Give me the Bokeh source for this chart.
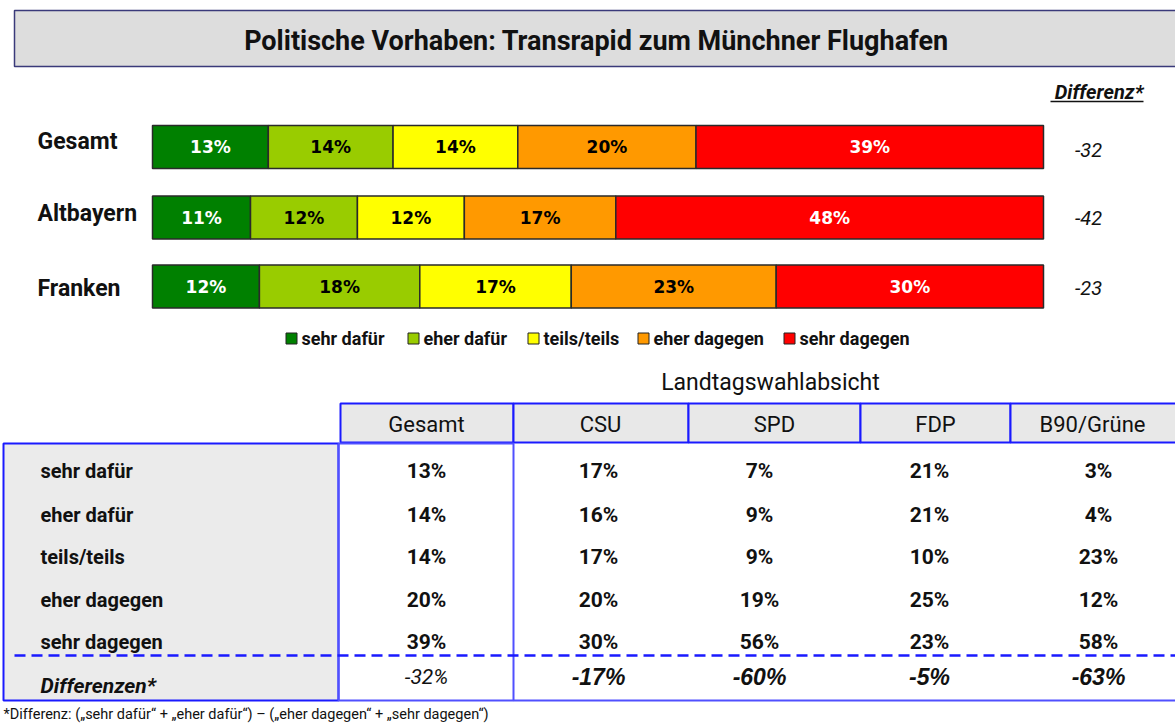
from bokeh.plotting import figure
from bokeh.models import Range1d, ColumnDataSource
from bokeh.core.properties import value
from bokeh.embed import file_html
from bokeh.resources import INLINE

# ---------------- data ----------------
title_text = "Politische Vorhaben: Transrapid zum Münchner Flughafen"
groups = ["Gesamt", "Altbayern", "Franken"]
answers = ["sehr dafür", "eher dafür", "teils/teils", "eher dagegen", "sehr dagegen"]
answer_colors = ["#008000", "#99cc00", "#ffff00", "#ff9900", "#ff0000"]
label_colors = ["white", "black", "black", "black", "white"]
sehr_dafuer = [13, 11, 12]
eher_dafuer = [14, 12, 18]
teils_teils = [14, 12, 17]
eher_dagegen = [20, 17, 23]
sehr_dagegen = [39, 48, 30]
differenz = [-32, -42, -23]

table_title = "Landtagswahlabsicht"
table_cols = ["Gesamt", "CSU", "SPD", "FDP", "B90/Grüne"]
tab_gesamt = [13, 14, 14, 20, 39]
tab_csu = [17, 16, 17, 20, 30]
tab_spd = [7, 9, 9, 19, 56]
tab_fdp = [21, 21, 10, 25, 23]
tab_gruene = [3, 4, 23, 12, 58]
tab_diff = [-32, -17, -60, -5, -63]
footnote = "*Differenz: („sehr dafür“ + „eher dafür“) – („eher dagegen“ + „sehr dagegen“)"

# ---------------- layout ----------------
NARROW = value("Roboto")
ARIAL = value("Liberation Sans")
WIDE = value("DejaVu Sans")
INK = "#111111"
W, H = 1175, 724
p = figure(width=W, height=H, x_range=Range1d(0, W), y_range=Range1d(H, 0),
           output_backend="svg", toolbar_location=None, min_border=0,
           x_axis_type=None, y_axis_type=None, outline_line_color=None)
p.grid.visible = False
p.background_fill_color = "white"
p.border_fill_color = "white"

# percent scale for the bars: 0% -> 152, 100% -> 1043 (page units)
BX0, BX1 = 152, 1043
ppx = (BX1 - BX0) / 100.0
p.extra_x_ranges = {"pct": Range1d(-BX0 / ppx, (W - BX0) / ppx)}

# title box
p.quad(left=[14], right=[1190], top=[10], bottom=[66], fill_color="#dddddd",
       line_color="#3a3a7a", line_width=1.5)
p.text(x=[596], y=[40], text=[title_text], text_font=NARROW, text_font_style="bold",
       text_font_size="27px", text_align="center", text_baseline="middle", text_color=INK)

# stacked bars
row_y = [146.5, 217, 286]
series = [sehr_dafuer, eher_dafuer, teils_teils, eher_dagegen, sehr_dagegen]
left = [0, 0, 0]
for ans, vals, col, lcol in zip(answers, series, answer_colors, label_colors):
    right = [l + v for l, v in zip(left, vals)]
    src = ColumnDataSource(dict(y=row_y, left=left, right=right,
                                mid=[(l + r) / 2 for l, r in zip(left, right)],
                                lab=[f"{v}%" for v in vals]))
    p.hbar(y="y", left="left", right="right", height=43, source=src, x_range_name="pct",
           fill_color=col, line_color="#2a2a2a", line_width=1.5)
    p.text(x="mid", y="y", text="lab", source=src, x_range_name="pct",
           text_font=WIDE, text_font_style="bold", text_font_size="17px",
           text_align="center", text_baseline="middle", text_color=lcol)
    left = right

p.text(x=[37] * 3, y=[141, 213, 288], text=groups, text_font=NARROW, text_font_style="bold",
       text_font_size="23px", text_align="left", text_baseline="middle", text_color=INK)

# Differenz column
p.text(x=[1143], y=[91], text=["Differenz*"], text_font=NARROW, text_font_style="bold italic",
       text_font_size="20px", text_align="right", text_baseline="middle", text_color=INK)
p.line(x=[1050, 1143], y=[101, 101], line_color=INK, line_width=1.5)
p.text(x=[1088] * 3, y=[149, 217, 287], text=[str(d) for d in differenz], text_font=NARROW,
       text_font_style="italic", text_font_size="20px", text_align="center",
       text_baseline="middle", text_color=INK)

# legend
leg_sq_x = [291, 413, 533, 643, 789]
for sx, ans, col in zip(leg_sq_x, answers, answer_colors):
    p.rect(x=[sx], y=[338], width=11, height=11, fill_color=col, line_color="#222222", line_width=1)
    p.text(x=[sx + 10], y=[338], text=[ans], text_font=NARROW, text_font_style="bold",
           text_font_size="18px", text_align="left", text_baseline="middle", text_color=INK)

# table title
p.text(x=[770], y=[382], text=[table_title], text_font=NARROW,
       text_font_size="23px", text_align="center", text_baseline="middle", text_color=INK)

# table header
BLUE = "#1a1aff"
BLUE2 = "#5050ff"
col_edges = [340, 513, 688, 860, 1010, 1190]
head_x = [426, 600, 774, 935, 1092]
p.quad(left=col_edges[:-1], right=col_edges[1:], top=[403] * 5, bottom=[442] * 5,
       fill_color="#e8e8e8", line_color=BLUE, line_width=2)
p.text(x=head_x, y=[424] * 5, text=table_cols, text_font=NARROW,
       text_font_size="22px", text_align="center", text_baseline="middle", text_color=INK)

# table body frames
p.quad(left=[3], right=[338], top=[443], bottom=[700], fill_color="#ebebeb",
       line_color=BLUE, line_width=2)
p.quad(left=[338], right=[513], top=[443], bottom=[700], fill_color=None,
       line_color=BLUE2, line_width=2)
p.line(x=[513, 1190], y=[700, 700], line_color=BLUE2, line_width=2)

# table rows
row_ys = [470, 514, 556, 599, 641]
p.text(x=[40] * 5, y=row_ys, text=answers, text_font=NARROW, text_font_style="bold",
       text_font_size="20px", text_align="left", text_baseline="middle", text_color=INK)
val_x = [426, 598, 759, 929, 1098]
for cx, vals in zip(val_x, [tab_gesamt, tab_csu, tab_spd, tab_fdp, tab_gruene]):
    p.text(x=[cx] * 5, y=row_ys, text=[f"{v}%" for v in vals], text_font=NARROW,
           text_font_style="bold", text_font_size="21px", text_align="center",
           text_baseline="middle", text_color=INK)

# dashed separator
p.line(x=[14, 1190], y=[655, 655], line_color=BLUE, line_width=2.5, line_dash="11 6")

# differences row
p.text(x=[40], y=[685], text=["Differenzen*"], text_font=NARROW, text_font_style="bold italic",
       text_font_size="21px", text_align="left", text_baseline="middle", text_color=INK)
p.text(x=[val_x[0]], y=[676], text=[f"{tab_diff[0]}%"], text_font=NARROW,
       text_font_style="italic", text_font_size="21px", text_align="center",
       text_baseline="middle", text_color=INK)
p.text(x=val_x[1:], y=[676] * 4, text=[f"{d}%" for d in tab_diff[1:]], text_font=ARIAL,
       text_font_style="bold italic", text_font_size="23px", text_align="center",
       text_baseline="middle", text_color=INK)

# footnote
p.text(x=[3], y=[714], text=[footnote], text_font=NARROW, text_font_size="14.5px",
       text_align="left", text_baseline="middle", text_color=INK)

open("out.html", "w").write(file_html(p, INLINE))
